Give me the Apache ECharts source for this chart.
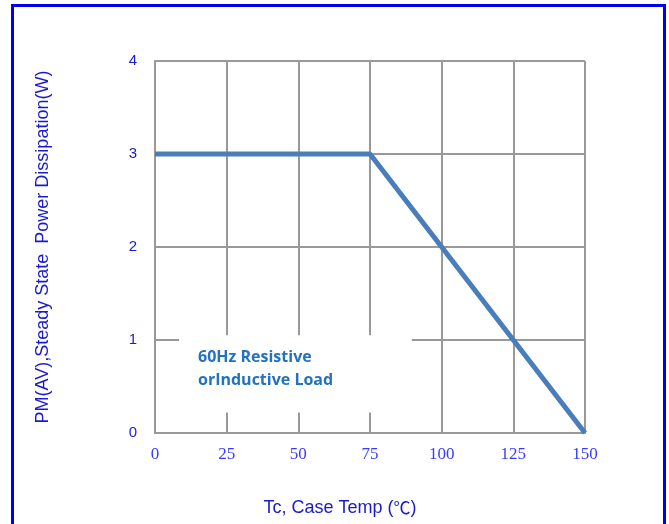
<!DOCTYPE html>
<html>
<head>
<meta charset="utf-8">
<script src="https://cdn.jsdelivr.net/npm/echarts@6/dist/echarts.min.js"></script>
<style>
html,body{margin:0;padding:0;background:#fff;}
#chart{width:669px;height:524px;}
</style>
</head>
<body>
<div id="chart"></div>
<script>
// Data
const tempPoints = [0, 75, 150];
const powerValues = [3, 3, 0];
const xTicks = [0, 25, 50, 75, 100, 125, 150];
const yTicks = [0, 1, 2, 3, 4];
const noteLines = ["60Hz Resistive", "orInductive Load"];
const xTitleMain = "Tc, Case Temp (";
const xTitleUnit = "\u2103";
const yTitle = "PM(AV),Steady State  Power Dissipation(W)";
const noteBox = [[8.4, 1.05], [89.6, 0.22]];

const chart = echarts.init(document.getElementById('chart'), null, {renderer: 'canvas'});
const gridColor = '#999999';
const option = {
  animation: false,
  backgroundColor: '#ffffff',
  grid: {left: 155, right: 84, top: 61, bottom: 91},
  xAxis: {
    type: 'value', min: xTicks[0], max: xTicks[xTicks.length - 1], interval: 25,
    axisLine: {show: true, lineStyle: {color: gridColor, width: 2}},
    axisTick: {show: false},
    splitLine: {show: true, lineStyle: {color: gridColor, width: 2}},
    axisLabel: {color: '#3a3aff', fontFamily: 'Liberation Serif', fontSize: 17, margin: 13},
    name: '{a|' + xTitleMain + '}{u|' + xTitleUnit + '}{a|)}', nameLocation: 'middle', nameGap: 66,
    nameTextStyle: {
      color: '#1a1acc', fontFamily: 'Liberation Sans', fontSize: 18,
      padding: [0, 60, 0, 0],
      rich: {
        a: {color: '#1a1acc', fontFamily: 'Liberation Sans', fontSize: 18},
        u: {color: '#1a1acc', fontFamily: 'Noto Sans CJK SC', fontSize: 17}
      }
    }
  },
  yAxis: {
    type: 'value', min: yTicks[0], max: yTicks[yTicks.length - 1], interval: 1,
    axisLine: {show: true, lineStyle: {color: gridColor, width: 2}},
    axisTick: {show: false},
    splitLine: {show: true, lineStyle: {color: gridColor, width: 2}},
    axisLabel: {color: '#1a1ad0', fontFamily: 'Liberation Sans', fontSize: 15, margin: 18},
    name: yTitle, nameLocation: 'middle', nameGap: 103, nameRotate: 90,
    nameTextStyle: {color: '#1a1acc', fontFamily: 'Liberation Sans', fontSize: 18}
  },
  series: [{
    type: 'line',
    data: tempPoints.map((t, i) => [t, powerValues[i]]),
    symbol: 'none',
    lineStyle: {color: '#4a7ebb', width: 5},
    z: 5,
    markArea: {
      silent: true,
      itemStyle: {color: '#ffffff', opacity: 1},
      label: {show: false},
      data: [[{coord: noteBox[0]}, {coord: noteBox[1]}]]
    }
  }],
  graphic: [
    {
      type: 'rect', left: 10, top: 3, z: 100,
      shape: {x: 0, y: 0, width: 652, height: 540},
      style: {fill: 'none', stroke: '#0000ee', lineWidth: 3}
    },
    {
      type: 'text', left: 198, top: 346, z: 100,
      style: {
        text: noteLines.join('\n'),
        fill: '#2372c0',
        font: 'bold 16px "Open Sans"',
        lineHeight: 23
      }
    }
  ]
};
chart.setOption(option);
</script>
</body>
</html>
